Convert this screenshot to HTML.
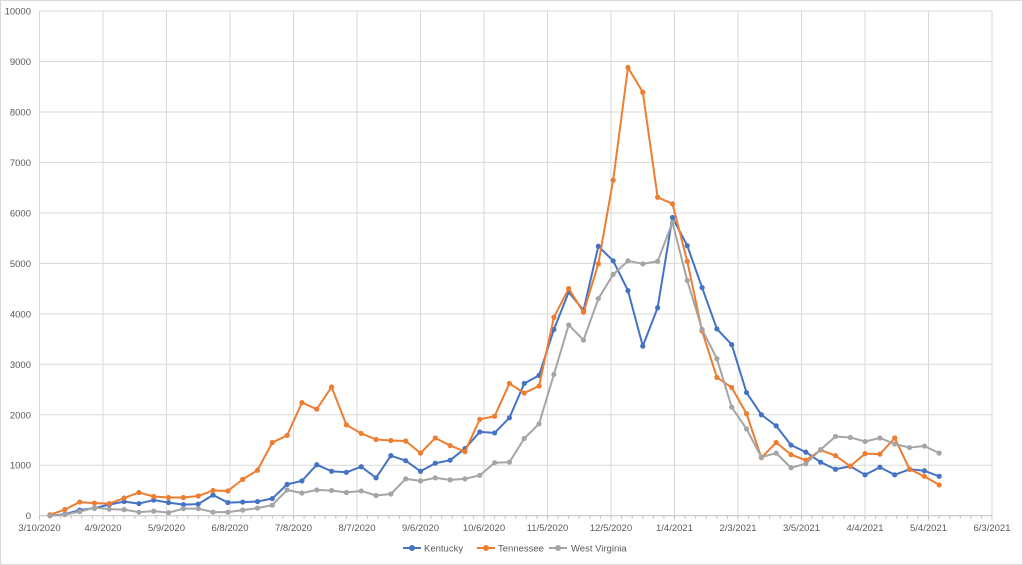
<!DOCTYPE html>
<html><head><meta charset="utf-8"><style>
body{margin:0;background:#fff;}
svg{display:block;font-family:"Liberation Sans",sans-serif;}
</style></head><body>
<svg id="c" width="1023" height="565" xmlns="http://www.w3.org/2000/svg">
<rect x="0.5" y="0.5" width="1022" height="564" fill="#fff" stroke="#d9d9d9"/>
<g id="g"></g>
<g font-size="9.5" fill="#595959">
<line x1="403" y1="548" x2="421" y2="548" stroke="#4472c4" stroke-width="2"/><circle cx="412" cy="548" r="3" fill="#4472c4"/>
<text x="424" y="551.5">Kentucky</text>
<line x1="477" y1="548" x2="495" y2="548" stroke="#ed7d31" stroke-width="2"/><circle cx="486" cy="548" r="3" fill="#ed7d31"/>
<text x="498" y="551.5">Tennessee</text>
<line x1="549" y1="548" x2="567" y2="548" stroke="#a5a5a5" stroke-width="2"/><circle cx="558" cy="548" r="3" fill="#a5a5a5"/>
<text x="571" y="551.5">West Virginia</text>
</g>
</svg>
<script>
const ns="http://www.w3.org/2000/svg",g=document.getElementById('g');
function el(t,a,txt){const e=document.createElementNS(ns,t);for(const k in a)e.setAttribute(k,a[k]);if(txt!==undefined)e.textContent=txt;g.appendChild(e);return e;}
const x0=39.5,xr=992,y0=515.7,yk=50.47;
const X=d=>x0+(xr-x0)*d/450, Y=v=>y0-v*yk/1000;
for(let i=0;i<=10;i++){const y=Y(i*1000);
 el('line',{x1:x0,x2:xr,y1:y,y2:y,stroke:i?'#d9d9d9':'#bfbfbf','stroke-width':1});
 el('text',{x:31,y:y+3.5,'font-size':9.5,fill:'#595959','text-anchor':'end'},String(i*1000));}
const lab=['3/10/2020','4/9/2020','5/9/2020','6/8/2020','7/8/2020','8/7/2020','9/6/2020','10/6/2020','11/5/2020','12/5/2020','1/4/2021','2/3/2021','3/5/2021','4/4/2021','5/4/2021','6/3/2021'];
for(let i=0;i<16;i++){const x=X(i*30);
 el('line',{x1:x,x2:x,y1:Y(10000),y2:y0+5,stroke:'#d9d9d9'});
 el('text',{x:x,y:531,'font-size':9.5,fill:'#595959','text-anchor':'middle'},lab[i]);}
for(let d=0;d<=450;d+=5){const x=X(d);el('line',{x1:x,x2:x,y1:y0,y2:y0+3,stroke:'#bfbfbf'});}
const data={
'#4472c4':[0,30,110,150,220,280,240,310,260,220,230,410,260,270,280,340,620,690,1010,880,860,970,750,1190,1090,880,1040,1100,1330,1660,1640,1940,2620,2780,3690,4430,4070,5340,5050,4460,3360,4120,5910,5350,4520,3700,3390,2440,2000,1780,1400,1260,1060,920,980,810,960,810,920,890,780],
'#ed7d31':[20,120,270,250,240,350,460,380,360,360,390,500,490,720,900,1450,1590,2240,2110,2550,1800,1630,1510,1490,1480,1240,1540,1390,1270,1910,1970,2620,2430,2570,3930,4500,4030,4990,6650,8880,8390,6310,6180,5040,3660,2740,2540,2020,1150,1450,1210,1100,1300,1190,980,1230,1220,1540,920,780,610],
'#a5a5a5':[0,20,80,160,130,120,70,90,60,140,140,70,70,110,150,210,510,450,510,500,460,490,400,430,730,690,750,710,730,800,1050,1060,1530,1820,2800,3780,3480,4300,4780,5050,4990,5040,5810,4660,3690,3110,2150,1720,1160,1240,950,1030,1310,1570,1550,1470,1540,1420,1350,1380,1240]};
for(const c of ['#4472c4','#ed7d31','#a5a5a5']){const v=data[c];
 const pts=v.map((y,i)=>[50+14.82*i,Y(y)]);
 el('polyline',{points:pts.map(p=>p.join(',')).join(' '),fill:'none',stroke:c,'stroke-width':2,'stroke-linejoin':'round'});
 pts.forEach(p=>el('circle',{cx:p[0],cy:p[1],r:2.6,fill:c}));}
</script>
</body></html>
